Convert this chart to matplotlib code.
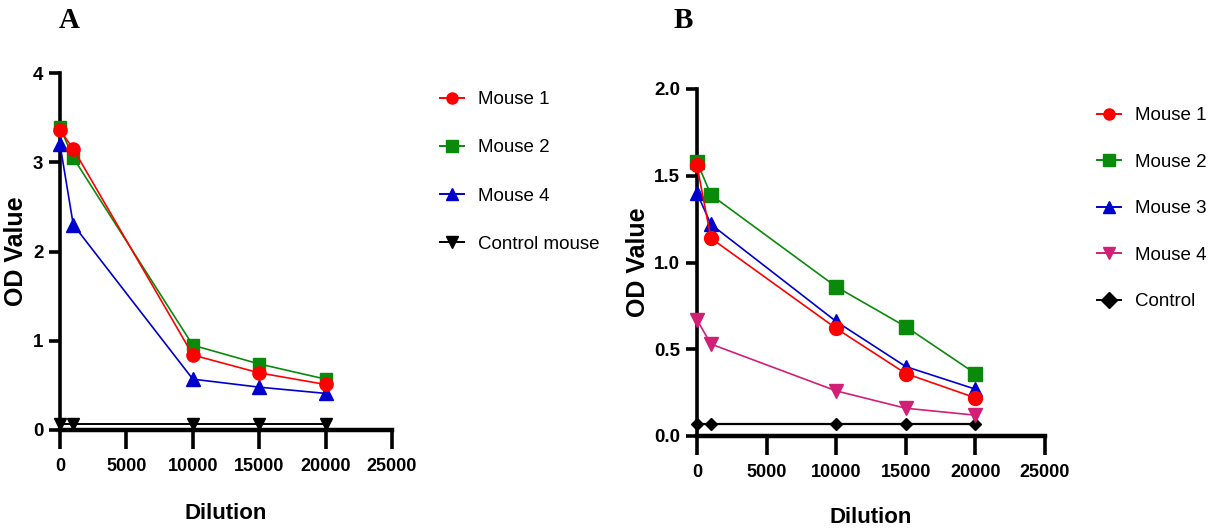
import matplotlib
matplotlib.use("Agg")
import matplotlib.pyplot as plt
from matplotlib.lines import Line2D

# ---------------- data ----------------
dilution = [0, 1000, 10000, 15000, 20000]

a_labels = ["Mouse 1", "Mouse 2", "Mouse 4", "Control mouse"]
a_mouse1 = [3.36, 3.15, 0.84, 0.64, 0.51]
a_mouse2 = [3.39, 3.05, 0.95, 0.74, 0.57]
a_mouse4 = [3.20, 2.30, 0.57, 0.48, 0.41]
a_control = [0.07, 0.07, 0.07, 0.07, 0.07]

b_labels = ["Mouse 1", "Mouse 2", "Mouse 3", "Mouse 4", "Control"]
b_mouse1 = [1.56, 1.14, 0.62, 0.36, 0.22]
b_mouse2 = [1.58, 1.39, 0.86, 0.63, 0.36]
b_mouse3 = [1.40, 1.22, 0.66, 0.40, 0.27]
b_mouse4 = [0.67, 0.53, 0.26, 0.16, 0.12]
b_control = [0.07, 0.07, 0.07, 0.07, 0.07]

x_ticks = [0, 5000, 10000, 15000, 20000, 25000]
a_yticks = [0, 1, 2, 3, 4]
b_yticks = [0.0, 0.5, 1.0, 1.5, 2.0]

RED = "#FF0000"
GREEN = "#0A8A0A"
BLUE = "#0000CC"
MAG = "#D01F74"
BLK = "#000000"

SANS = ["Liberation Sans", "DejaVu Sans"]
plt.rcParams["font.family"] = SANS

fig = plt.figure(figsize=(12.22, 5.29), dpi=100)
axA = fig.add_axes([60 / 1222, 1 - 430 / 529, (392 - 60) / 1222, (430 - 73) / 529])
axB = fig.add_axes([697 / 1222, 1 - 436 / 529, (1045 - 697) / 1222, (436 - 89) / 529])


def style(ax, yticks, yfmt, xpad):
    ax.set_xlim(0, 25000)
    ax.set_ylim(yticks[0], yticks[-1])
    for s in ["top", "right"]:
        ax.spines[s].set_visible(False)
    ax.spines["left"].set_linewidth(2.6)
    ax.spines["bottom"].set_linewidth(3.2)
    ax.set_xticks(x_ticks)
    ax.set_xticklabels([str(t) for t in x_ticks])
    ax.set_yticks(yticks)
    ax.set_yticklabels([yfmt.format(t) for t in yticks])
    ax.tick_params(axis="x", direction="out", length=14, width=2.6, pad=6,
                   labelsize=13)
    ax.tick_params(axis="y", direction="out", length=8, width=2.6, pad=4,
                   labelsize=13.5)
    for lab in ax.get_xticklabels() + ax.get_yticklabels():
        lab.set_fontweight("bold")
    ax.set_xlabel("Dilution", fontsize=16, fontweight="bold", labelpad=xpad)
    ax.set_ylabel("OD Value", fontsize=18, fontweight="bold")


def series(ax, y, color, marker, ms, lw=1.2):
    ax.plot(dilution, y, color=color, marker=marker, markersize=ms, lw=lw,
            clip_on=False, zorder=3)


# Panel A
series(axA, a_control, BLK, "v", 8.5, lw=1.4)
series(axA, a_mouse4, BLUE, "^", 9.5)
series(axA, a_mouse2, GREEN, "s", 9)
series(axA, a_mouse1, RED, "o", 9.5)
style(axA, a_yticks, "{:d}", 20)

# Panel B
series(axB, b_control, BLK, "D", 6.5, lw=1.6)
series(axB, b_mouse4, MAG, "v", 9.5)
series(axB, b_mouse3, BLUE, "^", 9.5)
series(axB, b_mouse2, GREEN, "s", 9.5)
series(axB, b_mouse1, RED, "o", 10)
style(axB, b_yticks, "{:.1f}", 19)

axA.yaxis.set_label_coords(-0.096, 0.5)
axB.yaxis.set_label_coords(-0.135, 0.5)


def legend(ax, labels, colors, markers, anchor, spacing):
    handles = [Line2D([], [], color=c, marker=m, markersize=8, lw=1.4)
               for c, m in zip(colors, markers)]
    ax.legend(handles, labels, loc="upper left", bbox_to_anchor=anchor,
              bbox_transform=fig.transFigure, frameon=False,
              prop={"family": SANS, "size": 13.5},
              handlelength=1.3, handletextpad=0.75, labelspacing=spacing,
              borderpad=0, borderaxespad=0)


legend(axA, a_labels, [RED, GREEN, BLUE, BLK], ["o", "s", "^", "v"],
       (440 / 1222, 1 - 91 / 529), 1.66)
legend(axB, b_labels, [RED, GREEN, BLUE, MAG, BLK], ["o", "s", "^", "v", "D"],
       (1097 / 1222, 1 - 107 / 529), 1.57)

fig.text(69 / 1222, 1 - 21 / 529, "A", fontsize=21, fontweight="bold",
         family=["Liberation Serif", "DejaVu Serif"], ha="center", va="center")
fig.text(683 / 1222, 1 - 21 / 529, "B", fontsize=21, fontweight="bold",
         family=["Liberation Serif", "DejaVu Serif"], ha="center", va="center")

fig.savefig("out.png", dpi=100)
